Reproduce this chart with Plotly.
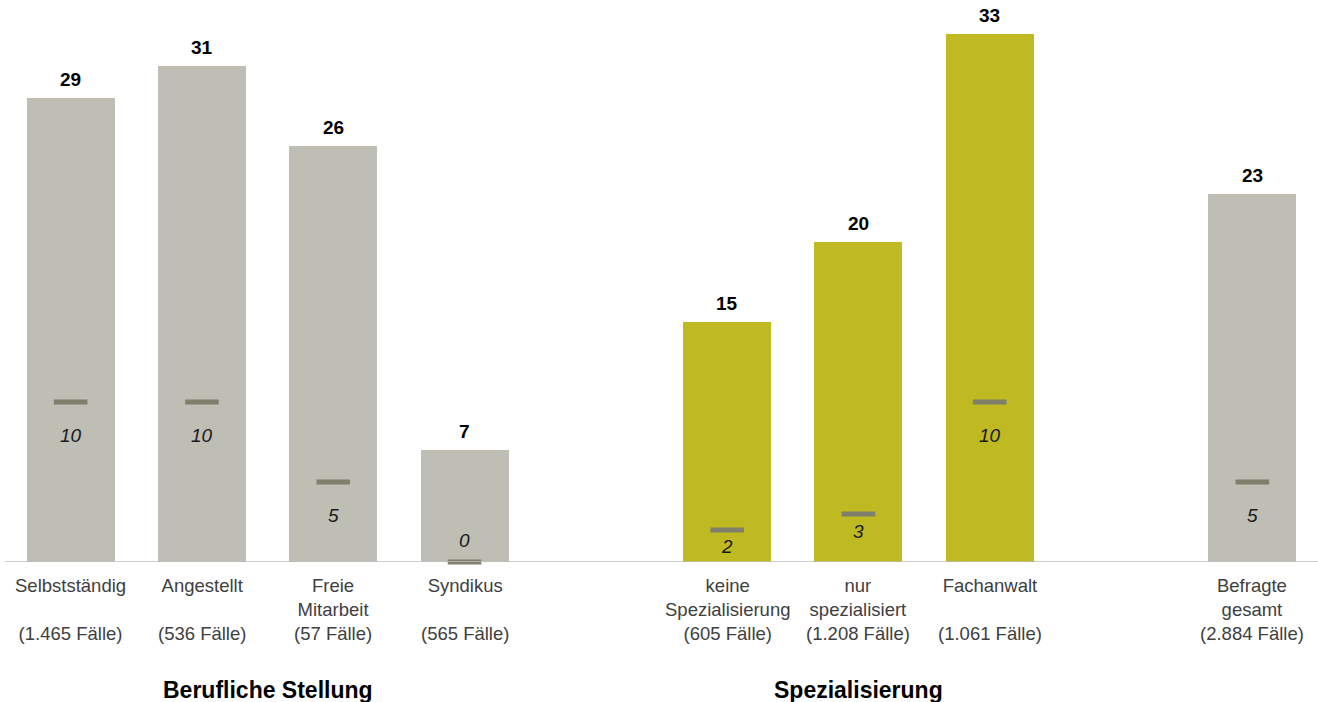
import plotly.graph_objects as go

# Category slots (empty strings leave a gap between the groups)
categories = ["Selbstständig", "Angestellt", "Freie Mitarbeit", "Syndikus", "",
              "keine Spezialisierung", "nur spezialisiert", "Fachanwalt", "",
              "Befragte gesamt"]
tick_labels = ["Selbstständig<br> <br>(1.465 Fälle)",
               "Angestellt<br> <br>(536 Fälle)",
               "Freie<br>Mitarbeit<br>(57 Fälle)",
               "Syndikus<br> <br>(565 Fälle)",
               "",
               "keine<br>Spezialisierung<br>(605 Fälle)",
               "nur<br>spezialisiert<br>(1.208 Fälle)",
               "Fachanwalt<br> <br>(1.061 Fälle)",
               "",
               "Befragte<br>gesamt<br>(2.884 Fälle)"]
bar_values = [29, 31, 26, 7, None, 15, 20, 33, None, 23]
marker_values = [10, 10, 5, 0, None, 2, 3, 10, None, 5]
group_titles = ["Berufliche Stellung", "Spezialisierung"]
group_spans = [(0, 3), (5, 7)]

# Styling
bar_colors = ["#BEBEB4", "#BEBEB4", "#BEBEB4", "#BEBEB4", "#FFFFFF",
              "#BFB922", "#BFB922", "#BFB922", "#FFFFFF", "#BEBEB4"]
# vertical pixel offset of the italic label relative to its dash marker
marker_label_shift = [-33, -33, -33, 22, 0, -16, -17, -33, 0, -33]
FONT = "Arial, Liberation Sans, sans-serif"

x = list(range(len(categories)))

fig = go.Figure()

bx = [i for i, v in zip(x, bar_values) if v is not None]
by = [v for v in bar_values if v is not None]
bc = [c for c, v in zip(bar_colors, bar_values) if v is not None]
fig.add_trace(go.Bar(x=bx, y=by, marker=dict(color=bc, line=dict(width=0)),
                     width=0.67, hoverinfo="skip", showlegend=False))

mx = [i for i, v in zip(x, marker_values) if v is not None]
my = [v for v in marker_values if v is not None]
ms = [s for s, v in zip(marker_label_shift, marker_values) if v is not None]
fig.add_trace(go.Scatter(x=mx, y=my, mode="markers",
                         marker=dict(symbol="line-ew", size=24,
                                     line=dict(width=5, color="#7F7F6C")),
                         hoverinfo="skip", showlegend=False, cliponaxis=False))

annotations = []
# Bold value labels above the bars
for i, v in zip(bx, by):
    annotations.append(dict(x=i, y=v, xref="x", yref="y", text=f"<b>{v}</b>",
                            showarrow=False, yanchor="bottom", yshift=6,
                            font=dict(family=FONT, size=19, color="#000000")))
# Italic labels next to the dash markers
for i, v, s in zip(mx, my, ms):
    annotations.append(dict(x=i, y=v, xref="x", yref="y", text=f"<i>{v}</i>",
                            showarrow=False, yanchor="middle", yshift=s,
                            font=dict(family=FONT, size=19, color="#1A1A1A")))
# Category labels below the axis
for i, t in zip(x, tick_labels):
    if t:
        annotations.append(dict(x=i, y=0, xref="x", yref="y", text=t,
                                showarrow=False, yanchor="top", yshift=-11,
                                align="center",
                                font=dict(family=FONT, size=18.5, color="#404040")))
# Group titles
for title, (a, b) in zip(group_titles, group_spans):
    annotations.append(dict(x=(a + b) / 2, y=0, xref="x", yref="y",
                            text=f"<b>{title}</b>", showarrow=False,
                            yanchor="middle", yshift=-128,
                            font=dict(family=FONT, size=23, color="#000000")))

fig.update_layout(
    width=1318, height=702,
    margin=dict(l=5, r=0, t=0, b=140),
    plot_bgcolor="white", paper_bgcolor="white",
    xaxis=dict(range=[-0.5, 9.5], showticklabels=False, showgrid=False,
               zeroline=False, showline=False, fixedrange=True),
    yaxis=dict(range=[0, 562 / 16], showticklabels=False, showgrid=False,
               zeroline=False, showline=False, fixedrange=True),
    annotations=annotations,
    shapes=[dict(type="line", xref="paper", yref="y", x0=0, x1=1, y0=0, y1=0,
                 line=dict(color="#BFBFBF", width=1.5), layer="above")],
    bargap=0,
)

fig.write_html("out.html")
